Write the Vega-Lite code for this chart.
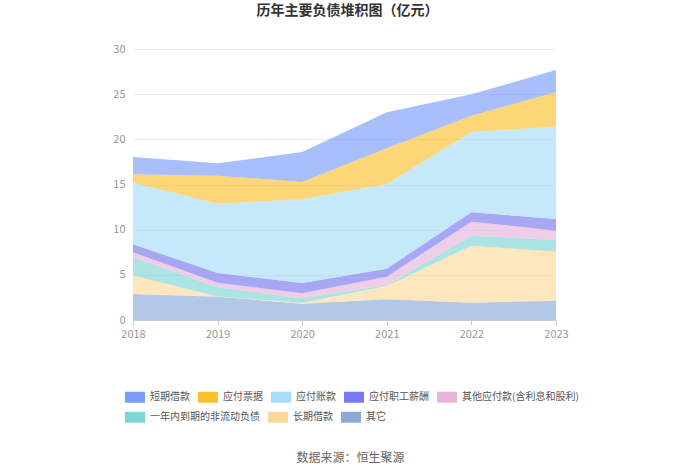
{
  "$schema": "https://vega.github.io/schema/vega-lite/v6.json",
  "width": 423,
  "height": 271,
  "autosize": "none",
  "padding": {"left": 133, "top": 49, "right": 144, "bottom": 154},
  "background": "white",
  "config": {"view": {"stroke": null}, "font": "Noto Sans CJK SC",
    "legend": {"orient": "none", "direction": "horizontal", "title": null, "symbolType": "M-1,-0.55h2v1.1h-2z", "symbolSize": 400, "symbolOpacity": 1, "symbolStrokeWidth": 0,
      "labelFontSize": 10, "labelColor": "#555555", "labelOffset": 5, "columnPadding": 8, "symbolOffset": 0}},
  "title": {"text": "历年主要负债堆积图（亿元）", "anchor": "middle", "fontSize": 14, "fontWeight": "bold", "color": "#333333", "offset": 25, "dx": 3},
  "data": {"values": [
    {"year": "2018", "name": "其它", "k": 1, "value": 2.88},
    {"year": "2018", "name": "长期借款", "k": 2, "value": 2.06},
    {"year": "2018", "name": "一年内到期的非流动负债", "k": 3, "value": 2.0},
    {"year": "2018", "name": "其他应付款(含利息和股利)", "k": 4, "value": 0.55},
    {"year": "2018", "name": "应付职工薪酬", "k": 5, "value": 0.89},
    {"year": "2018", "name": "应付账款", "k": 6, "value": 6.82},
    {"year": "2018", "name": "应付票据", "k": 7, "value": 0.93},
    {"year": "2018", "name": "短期借款", "k": 8, "value": 1.91},
    {"year": "2019", "name": "其它", "k": 1, "value": 2.58},
    {"year": "2019", "name": "长期借款", "k": 2, "value": 0.02},
    {"year": "2019", "name": "一年内到期的非流动负债", "k": 3, "value": 1.02},
    {"year": "2019", "name": "其他应付款(含利息和股利)", "k": 4, "value": 0.51},
    {"year": "2019", "name": "应付职工薪酬", "k": 5, "value": 1.07},
    {"year": "2019", "name": "应付账款", "k": 6, "value": 7.68},
    {"year": "2019", "name": "应付票据", "k": 7, "value": 3.1},
    {"year": "2019", "name": "短期借款", "k": 8, "value": 1.36},
    {"year": "2020", "name": "其它", "k": 1, "value": 1.81},
    {"year": "2020", "name": "长期借款", "k": 2, "value": 0.11},
    {"year": "2020", "name": "一年内到期的非流动负债", "k": 3, "value": 0.48},
    {"year": "2020", "name": "其他应付款(含利息和股利)", "k": 4, "value": 0.55},
    {"year": "2020", "name": "应付职工薪酬", "k": 5, "value": 1.15},
    {"year": "2020", "name": "应付账款", "k": 6, "value": 9.26},
    {"year": "2020", "name": "应付票据", "k": 7, "value": 1.92},
    {"year": "2020", "name": "短期借款", "k": 8, "value": 3.32},
    {"year": "2021", "name": "其它", "k": 1, "value": 2.29},
    {"year": "2021", "name": "长期借款", "k": 2, "value": 1.47},
    {"year": "2021", "name": "一年内到期的非流动负债", "k": 3, "value": 0.11},
    {"year": "2021", "name": "其他应付款(含利息和股利)", "k": 4, "value": 0.93},
    {"year": "2021", "name": "应付职工薪酬", "k": 5, "value": 0.88},
    {"year": "2021", "name": "应付账款", "k": 6, "value": 9.38},
    {"year": "2021", "name": "应付票据", "k": 7, "value": 3.94},
    {"year": "2021", "name": "短期借款", "k": 8, "value": 4.0},
    {"year": "2022", "name": "其它", "k": 1, "value": 1.92},
    {"year": "2022", "name": "长期借款", "k": 2, "value": 6.31},
    {"year": "2022", "name": "一年内到期的非流动负债", "k": 3, "value": 1.11},
    {"year": "2022", "name": "其他应付款(含利息和股利)", "k": 4, "value": 1.55},
    {"year": "2022", "name": "应付职工薪酬", "k": 5, "value": 1.03},
    {"year": "2022", "name": "应付账款", "k": 6, "value": 8.89},
    {"year": "2022", "name": "应付票据", "k": 7, "value": 1.81},
    {"year": "2022", "name": "短期借款", "k": 8, "value": 2.36},
    {"year": "2023", "name": "其它", "k": 1, "value": 2.14},
    {"year": "2023", "name": "长期借款", "k": 2, "value": 5.42},
    {"year": "2023", "name": "一年内到期的非流动负债", "k": 3, "value": 1.3},
    {"year": "2023", "name": "其他应付款(含利息和股利)", "k": 4, "value": 1.03},
    {"year": "2023", "name": "应付职工薪酬", "k": 5, "value": 1.29},
    {"year": "2023", "name": "应付账款", "k": 6, "value": 10.22},
    {"year": "2023", "name": "应付票据", "k": 7, "value": 3.8},
    {"year": "2023", "name": "短期借款", "k": 8, "value": 2.48}
  ]},
  "encoding": {
    "x": {"field": "year", "type": "ordinal", "scale": {"type": "point", "padding": 0},
      "axis": {"labelAngle": 0, "labelColor": "#999999", "labelFontSize": 11, "domainColor": "#cccccc", "tickColor": "#cccccc", "tickSize": 5, "labelPadding": 3,
        "title": "数据来源：恒生聚源", "titleFontSize": 12, "titleFontWeight": "normal", "titleColor": "#666666", "titlePadding": 113, "titleX": 217}}
  },
  "layer": [
    {
      "mark": {"type": "area", "opacity": 0.65, "interpolate": "linear"},
      "encoding": {
        "y": {"field": "value", "type": "quantitative", "stack": "zero", "scale": {"domain": [0, 30]},
          "axis": {"title": null, "values": [0, 5, 10, 15, 20, 25, 30], "labelColor": "#999999", "labelFontSize": 11, "domain": false, "ticks": false, "gridColor": "#e8ecf2", "labelPadding": 8}},
        "color": {"field": "name", "type": "nominal",
          "scale": {"domain": ["短期借款", "应付票据", "应付账款", "应付职工薪酬", "其他应付款(含利息和股利)", "一年内到期的非流动负债", "长期借款", "其它"],
            "range": ["#7b9cf9", "#fcc02e", "#a6ddf9", "#7a78f0", "#e7b3da", "#7fd6d6", "#fed89b", "#8aa9d8"]},
          "legend": null},
        "order": {"field": "k", "type": "quantitative"}
      }
    },
    {
      "transform": [{"filter": {"field": "name", "oneOf": ["短期借款", "应付票据", "应付账款", "应付职工薪酬", "其他应付款(含利息和股利)"]}}],
      "mark": {"type": "point", "filled": true, "opacity": 0},
      "encoding": {
        "y": {"field": "value", "type": "quantitative"},
        "color": {"field": "name", "type": "nominal",
          "scale": {"domain": ["短期借款", "应付票据", "应付账款", "应付职工薪酬", "其他应付款(含利息和股利)"],
            "range": ["#7b9cf9", "#fcc02e", "#a6ddf9", "#7a78f0", "#e7b3da"]},
          "legend": {"legendX": -8, "legendY": 338}}
      }
    },
    {
      "transform": [{"filter": {"field": "name", "oneOf": ["一年内到期的非流动负债", "长期借款", "其它"]}}],
      "mark": {"type": "point", "filled": true, "opacity": 0},
      "encoding": {
        "y": {"field": "value", "type": "quantitative"},
        "color": {"field": "name", "type": "nominal",
          "scale": {"domain": ["一年内到期的非流动负债", "长期借款", "其它"],
            "range": ["#7fd6d6", "#fed89b", "#8aa9d8"]},
          "legend": {"legendX": -8, "legendY": 358}}
      }
    }
  ],
  "resolve": {"scale": {"color": "independent"}, "legend": {"color": "independent"}}
}
